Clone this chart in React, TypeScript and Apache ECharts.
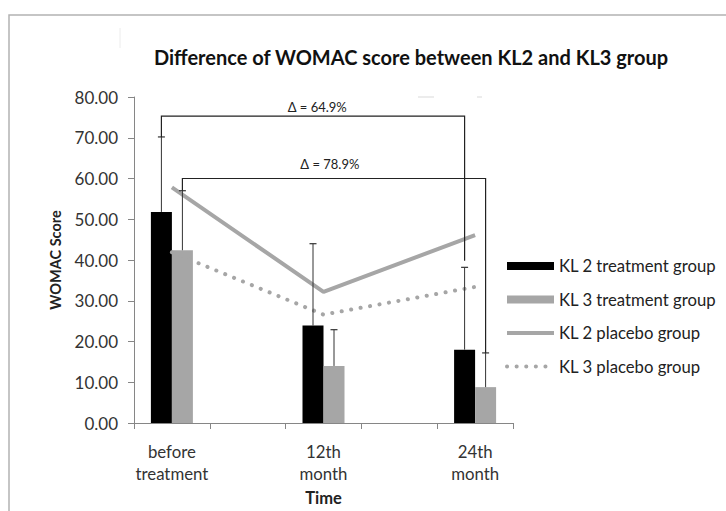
import React, { useEffect, useRef } from "react";
import * as echarts from "echarts";

// ---- data ----
const timeLabels = ["before\ntreatment", "12th\nmonth", "24th\nmonth"];
const kl2Treatment = [51.8, 23.9, 18.0];
const kl2TreatmentErr = [18.4, 20.1, 20.2];
const kl3Treatment = [42.4, 14.0, 8.8];
const kl3TreatmentErr = [14.6, 8.9, 8.4];
const kl2Placebo = [57.8, 32.2, 46.1];
const kl3Placebo = [41.9, 26.6, 33.4];
const yTicks = [0, 10, 20, 30, 40, 50, 60, 70, 80];

// brackets: label, level, value at right end, label value, which bar (-1 KL2, +1 KL3)
const bracketLabels = ["\u0394 = 64.9%", "\u0394 = 78.9%"];
const bracketLevels = [75.3, 60.0];
const bracketRightEnds = [39.8, 17.2];
const bracketLabelValues = [77.6, 63.5];
const bracketSides = [-1, 1];

const FONT = "Lato, 'Open Sans', sans-serif";
const BAR_W = 21;
const GREY = "#a6a6a6";

// category axis has a blank slot between each time point
const cats: string[] = [];
timeLabels.forEach((t, i) => {
  cats.push(t);
  if (i < timeLabels.length - 1) cats.push("");
});
const pos = (i: number) => i * 2;
const spread = (arr: number[]) => {
  const out: (number | null)[] = cats.map(() => null);
  arr.forEach((v, i) => (out[pos(i)] = v));
  return out;
};

export default function App() {
  const ref = useRef<HTMLDivElement>(null);
  useEffect(() => {
    document.body.style.margin = "0";
    const chart = echarts.init(ref.current!, undefined, { renderer: "svg" });

    const errSeries = (vals: number[], errs: number[], side: number) => ({
      type: "custom",
      silent: true,
      z: 5,
      data: vals.map((v, i) => [pos(i), v, v + errs[i]]),
      renderItem: (params: any, api: any) => {
        const base = api.coord([api.value(0), api.value(1)]);
        const top = api.coord([api.value(0), api.value(2)]);
        const x = base[0] + (side * BAR_W) / 2;
        return {
          type: "group",
          children: [
            {
              type: "line",
              shape: { x1: x, y1: base[1], x2: x, y2: top[1] },
              style: { stroke: "#333", lineWidth: 1 },
            },
            {
              type: "line",
              shape: { x1: x - 3.5, y1: top[1], x2: x + 3.5, y2: top[1] },
              style: { stroke: "#333", lineWidth: 1.2 },
            },
          ],
        };
      },
    });

    const bracketData = bracketLabels.map((lab, k) => {
      const errTop =
        bracketSides[k] < 0
          ? kl2Treatment[0] + kl2TreatmentErr[0]
          : kl3Treatment[0] + kl3TreatmentErr[0];
      return [pos(0), pos(timeLabels.length - 1), bracketLevels[k], errTop, bracketRightEnds[k], bracketLabelValues[k], bracketSides[k], k];
    });

    const lineLegend = {
      lineStyle: { width: 4 },
      itemStyle: { opacity: 0, borderWidth: 0 },
    };

    const option: any = {
      animation: false,
      backgroundColor: "#fff",
      title: {
        text: "Difference of WOMAC score between KL2 and KL3 group",
        left: 406,
        top: 42,
        textAlign: "center",
        textStyle: { fontFamily: FONT, fontSize: 20, fontWeight: "bold", color: "#111" },
      },
      grid: { left: 134, right: 213, top: 97, bottom: 84 },
      legend: {
        orient: "vertical",
        left: 505,
        top: 257,
        padding: 0,
        itemWidth: 47,
        itemHeight: 8,
        itemGap: 15.5,
        selectedMode: false,
        textStyle: { fontFamily: FONT, fontSize: 16.7, color: "#222", lineHeight: 18 },
        data: [
          { name: "KL 2 treatment group", icon: "rect" },
          { name: "KL 3 treatment group", icon: "rect" },
          { name: "KL 2 placebo group", ...lineLegend },
          { name: "KL 3 placebo group", ...lineLegend },
        ],
      },
      xAxis: {
        type: "category",
        data: cats,
        boundaryGap: true,
        name: "Time",
        nameLocation: "middle",
        nameGap: 66,
        nameTextStyle: { fontFamily: FONT, fontSize: 16.5, fontWeight: "bold", color: "#222" },
        axisLine: { lineStyle: { color: "#868686", width: 1 } },
        axisTick: { show: true, length: 6, interval: 0, lineStyle: { color: "#868686" } },
        axisLabel: {
          interval: 0,
          margin: 17,
          fontFamily: FONT,
          fontSize: 16.8,
          lineHeight: 22,
          color: "#333",
        },
      },
      yAxis: {
        type: "value",
        min: yTicks[0],
        max: yTicks[yTicks.length - 1],
        interval: 10,
        name: "WOMAC Score",
        nameLocation: "middle",
        nameGap: 71,
        nameTextStyle: { fontFamily: FONT, fontSize: 14.5, fontWeight: "bold", color: "#222" },
        axisLine: { show: true, lineStyle: { color: "#868686", width: 1 } },
        axisTick: { show: true, length: 6, lineStyle: { color: "#868686" } },
        splitLine: { show: false },
        axisLabel: {
          margin: 16,
          fontFamily: FONT,
          fontSize: 17,
          color: "#333",
          formatter: (v: number) => v.toFixed(2),
        },
      },
      series: [
        {
          name: "KL 2 treatment group",
          type: "bar",
          barWidth: BAR_W,
          barGap: "0%",
          data: spread(kl2Treatment),
          itemStyle: { color: "#000" },
          silent: true,
        },
        {
          name: "KL 3 treatment group",
          type: "bar",
          barWidth: BAR_W,
          barGap: "0%",
          data: spread(kl3Treatment),
          itemStyle: { color: GREY },
          silent: true,
        },
        {
          name: "KL 2 placebo group",
          type: "line",
          data: spread(kl2Placebo),
          connectNulls: true,
          symbol: "none",
          z: 4,
          lineStyle: { color: GREY, width: 4 },
          itemStyle: { color: GREY },
          silent: true,
        },
        {
          name: "KL 3 placebo group",
          type: "line",
          data: spread(kl3Placebo),
          connectNulls: true,
          symbol: "none",
          z: 4,
          lineStyle: { color: GREY, width: 4, type: [0.1, 9.5], cap: "round" },
          itemStyle: { color: GREY },
          silent: true,
        },
        errSeries(kl2Treatment, kl2TreatmentErr, -1),
        errSeries(kl3Treatment, kl3TreatmentErr, 1),
        {
          type: "custom",
          silent: true,
          z: 6,
          clip: false,
          data: bracketData,
          renderItem: (params: any, api: any) => {
            const side = api.value(6);
            const k = api.value(7);
            const off = (side * BAR_W) / 2;
            const pStart = api.coord([api.value(0), api.value(3)]);
            const pLevelL = api.coord([api.value(0), api.value(2)]);
            const pLevelR = api.coord([api.value(1), api.value(2)]);
            const pEnd = api.coord([api.value(1), api.value(4)]);
            const pLab = api.coord([(api.value(0) + api.value(1)) / 2, api.value(5)]);
            return {
              type: "group",
              children: [
                {
                  type: "polyline",
                  shape: {
                    points: [
                      [pStart[0] + off, pStart[1]],
                      [pLevelL[0] + off, pLevelL[1]],
                      [pLevelR[0] + off, pLevelR[1]],
                      [pEnd[0] + off, pEnd[1]],
                    ],
                  },
                  style: { stroke: "#222", lineWidth: 1.2, fill: "none" },
                },
                {
                  type: "text",
                  x: pLab[0] + off * 0.6,
                  y: pLab[1],
                  style: {
                    text: bracketLabels[k],
                    fontFamily: FONT,
                    fontSize: 13,
                    fill: "#222",
                    align: "center",
                    verticalAlign: "middle",
                  },
                },
              ],
            };
          },
        },
      ],
      graphic: [
        {
          type: "rect",
          shape: { x: 9, y: 15, width: 900, height: 700 },
          style: { fill: "none", stroke: "#b3b3b3", lineWidth: 1.5 },
          silent: true,
        },
        {
          type: "line",
          shape: { x1: 120, y1: 28, x2: 120, y2: 48 },
          style: { stroke: "#ececec", lineWidth: 1 },
          silent: true,
        },
        {
          type: "line",
          shape: { x1: 418, y1: 97, x2: 434, y2: 97 },
          style: { stroke: "#e6e6e6", lineWidth: 1.5 },
          silent: true,
        },
        {
          type: "line",
          shape: { x1: 477, y1: 97, x2: 482, y2: 97 },
          style: { stroke: "#e6e6e6", lineWidth: 1.5 },
          silent: true,
        },
      ],
    };
    chart.setOption(option);
    return () => chart.dispose();
  }, []);
  return <div ref={ref} style={{ width: 726, height: 511, position: "absolute", left: 0, top: 0 }} />;
}
